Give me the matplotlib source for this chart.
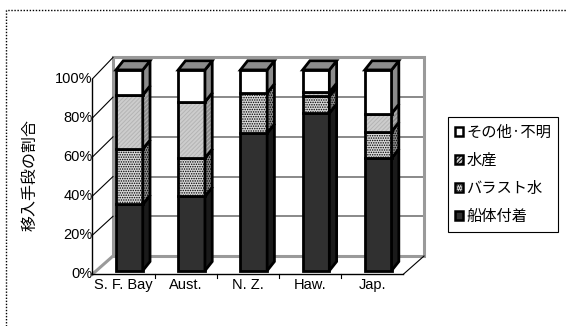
import matplotlib
matplotlib.use("Agg")
import matplotlib.pyplot as plt
from matplotlib.patches import Polygon, Patch
from matplotlib.lines import Line2D

plt.rcParams['hatch.linewidth'] = 0.7

categories = ['S. F. Bay', 'Aust.', 'N. Z.', 'Haw.', 'Jap.']
hull = [33, 37, 68.5, 78.5, 56]          # 船体付着
ballast = [27.5, 19, 20, 8.3, 13.3]      # バラスト水
fishery = [27, 28, 0, 2, 9]              # 水産
other = [12.5, 16, 11.5, 11.2, 21.7]     # その他・不明
yticks = [0, 20, 40, 60, 80, 100]
series_names = ['船体付着', 'バラスト水', '水産', 'その他·不明']

latin = ['Liberation Sans Narrow', 'Liberation Sans', 'DejaVu Sans']
cjk = ['Noto Sans CJK JP', 'DejaVu Sans']

# front face / side face / hatch for each series
styles = [
    dict(front='#303030', side='#1a1a1a', hatch=None, hcol=None),
    dict(front='#d8d8d8', side='#8a8a8a', hatch='.......', hcol='black'),
    dict(front='#cdcdcd', side='#8e8e8e', hatch='////////', hcol='#b4b4b4'),
    dict(front='white', side='#8c8c8c', hatch=None, hcol=None),
]
top_color = '#8c8c8c'

fig = plt.figure(figsize=(5.66, 3.26), dpi=100)
W, H = 566, 326
# front plane of the 3D box: x -0.5..4.5, y 0..100
x0, x1, y0, y1 = 92.3, 403.3, 274.3, 79.0
ax = fig.add_axes([x0 / W, 1 - y0 / H, (x1 - x0) / W, (y0 - y1) / H])
ax.set_xlim(-0.5, len(categories) - 0.5)
ax.set_ylim(0, 100)
ax.axis('off')

# oblique offset for the back wall
DX, DY, SY = 0.333, 9.37, 1.017


def back(u, v):
    return u + DX, DY + SY * v


def poly(pts, fc, hatch=None, hcol=None, ec='black', lw=2.0, z=3):
    if hatch:
        ax.add_patch(Polygon(pts, closed=True, facecolor=fc, edgecolor=hcol,
                             hatch=hatch, lw=0, zorder=z, clip_on=False))
        ax.add_patch(Polygon(pts, closed=True, fill=False, edgecolor=ec,
                             lw=lw, zorder=z, clip_on=False, joinstyle='miter'))
    else:
        ax.add_patch(Polygon(pts, closed=True, facecolor=fc, edgecolor=ec,
                             lw=lw, zorder=z, clip_on=False, joinstyle='miter'))


n = len(categories)
left, right = -0.5, n - 0.5

# back wall with gridlines
wall = [back(left, 0), back(right, 0), back(right, 100), back(left, 100)]
for v in yticks[1:-1]:
    (a, b), (c, d) = back(left, v), back(right, v)
    ax.plot([a, c], [b, d], color='#808080', lw=1.3, zorder=1, clip_on=False)
ax.add_patch(Polygon(wall, closed=True, fill=False, edgecolor='#9a9a9a',
                     lw=2.2, zorder=1.5, clip_on=False))

# left wall: diagonals from the front axis to the back wall
for v in yticks:
    bx, by = back(left, v)
    col, lw = ('#9a9a9a', 2.2) if v == 0 else ('black', 0.8)
    ax.plot([left, bx], [v, by], color=col, lw=lw, zorder=1.6, clip_on=False)
# right floor edge
bx, by = back(right, 0)
ax.plot([right, bx], [0, by], color='black', lw=0.8, zorder=1.6, clip_on=False)

# front axes
ax.plot([left, left], [0, 100], color='black', lw=1.0, zorder=5, clip_on=False)
ax.plot([left, right], [0, 0], color='black', lw=1.0, zorder=5, clip_on=False)
for i in range(1, n):
    ax.plot([i - 0.5, i - 0.5], [0, -2], color='black', lw=0.8, zorder=5,
            clip_on=False)
for v in yticks:
    ax.text(left + 0.005, v, f'{v}%', ha='right', va='center',
            fontsize=10.5, family=latin, zorder=6)
for i, name in enumerate(categories):
    ax.text(i, -2.0, name, ha='center', va='top', fontsize=10.5,
            family=latin)

# 3D stacked bars
bw, shift = 0.43, 0.096
B0, BS = 1.84, 1.028
SDX, SDY = 0.117, 4.7
stacks = [hull, ballast, fishery, other]
for i in range(n):
    xl, xr = i + shift - bw / 2, i + shift + bw / 2
    base = 0.0
    for s, vals in enumerate(stacks):
        v = vals[i]
        if v <= 0:
            continue
        ya, yb = B0 + BS * base, B0 + BS * (base + v)
        st = styles[s]
        poly([(xl, ya), (xr, ya), (xr, yb), (xl, yb)], st['front'],
             st['hatch'], st['hcol'], z=3 + i * 0.01)
        poly([(xr, ya), (xr + SDX, ya + SDY), (xr + SDX, yb + SDY), (xr, yb)],
             st['side'], st['hatch'], st['hcol'], z=3 + i * 0.01)
        base += v
    yt = B0 + BS * base
    poly([(xl, yt), (xr, yt), (xr + SDX, yt + SDY), (xl + SDX, yt + SDY)],
         top_color, z=3 + i * 0.01)

# legend
handles = [Patch(facecolor=st['front'], edgecolor='black', hatch=st['hatch'],
                 lw=1.8) for st in styles]
leg = fig.legend(handles[::-1], series_names[::-1], loc='upper left',
                 bbox_to_anchor=(448 / W, 1 - 117 / H), borderaxespad=0,
                 fancybox=False, edgecolor='black', framealpha=1,
                 handlelength=0.5, handleheight=0.5, handletextpad=0.25,
                 labelspacing=0.72, borderpad=0.45,
                 prop=dict(family=cjk, size=11))
leg.get_frame().set_linewidth(0.8)

fig.text(30.5 / W, 1 - 175 / H, '移入手段の割合', rotation=90, ha='center',
         va='center', fontsize=11.5, family=cjk)

# dotted frame around the chart area
fig.add_artist(Line2D([6 / W, 6 / W, 1.0], [0, 1 - 10 / H, 1 - 10 / H],
                      transform=fig.transFigure, color='black', lw=1.0,
                      linestyle=(0, (1, 1.2))))

fig.savefig('out.png', dpi=100)
